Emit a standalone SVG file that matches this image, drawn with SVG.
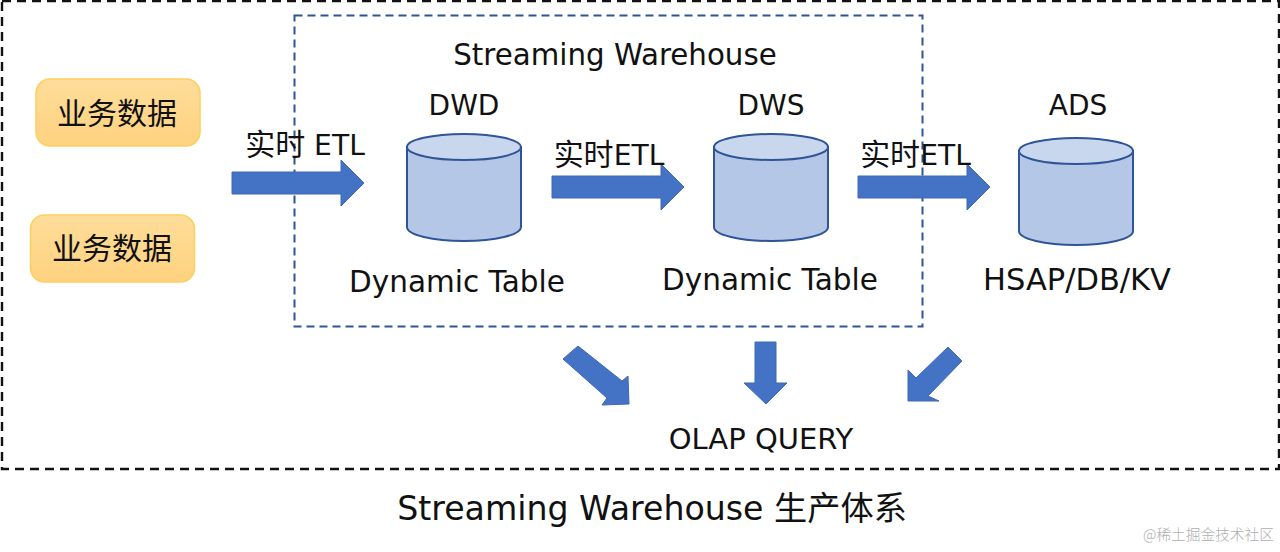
<svg xmlns="http://www.w3.org/2000/svg" width="1280" height="552" viewBox="0 0 1280 552">
<defs>
<linearGradient id="g" x1="0" y1="0" x2="0" y2="1"><stop offset="0" stop-color="#fedd9a"/><stop offset="1" stop-color="#fed27f"/></linearGradient>
<g id="cyl"><path class="cb" d="M0 14V94C0 102 26 108 57 108S114 102 114 94V14Z"/><ellipse class="ct" cx="57" cy="14" rx="57" ry="13"/></g>
</defs>
<style>
text{font-family:"DejaVu Sans","Noto Sans CJK SC",sans-serif;fill:#111;text-anchor:middle}
.t{font-size:29.500px}
.h{font-size:28px}
.e{font-size:28.200px}
.c{font-family:"Noto Sans CJK SC",sans-serif;font-size:30px}
.b{fill:url(#g);stroke:#fbd05e;stroke-width:1.500}
.a{fill:#4472c4;stroke:#3f69b4;stroke-width:1}
.cb{fill:#b4c7e7;stroke:#2f5597;stroke-width:2}
.ct{fill:#c9d7ee;stroke:#2f5597;stroke-width:2}
</style>
<rect width="1280" height="552" fill="#fff"/>
<g id="outer"><rect x="2" y="1" width="1277" height="468" fill="none" stroke="#111" stroke-width="2.400" stroke-dasharray="9 6"/></g>
<g id="warehouse"><rect x="294.500" y="15.500" width="628" height="311" fill="none" stroke="#2f5597" stroke-width="2" stroke-dasharray="8 5"/>
<text x="615" y="65" class="t" style="font-size:29.300px">Streaming Warehouse</text></g>
<g id="src1"><rect class="b" x="36" y="79" width="164" height="67" rx="14"/><text x="117" y="124" class="c">业务数据</text></g>
<g id="src2"><rect class="b" x="30.500" y="215" width="164" height="67" rx="14"/><text x="112" y="259" class="c">业务数据</text></g>
<g id="dwd"><text x="464" y="115" class="h">DWD</text><use href="#cyl" x="407" y="133"/><text x="457" y="292" class="t">Dynamic Table</text></g>
<g id="dws"><text x="771" y="115" class="h">DWS</text><use href="#cyl" x="714" y="133"/><text x="770" y="290" class="t">Dynamic Table</text></g>
<g id="ads"><text x="1078" y="115" class="h">ADS</text><use href="#cyl" x="1019" y="137"/><text x="1077" y="290" style="font-size:30.500px">HSAP/DB/KV</text></g>
<g id="connectors">
<polygon class="a" points="232,172 341,172 341,160 364,183 341,206 341,194 232,194"/>
<polygon class="a" points="552,176 661,176 661,164 684,187 661,210 661,198 552,198"/>
<polygon class="a" points="858,176 967,176 967,164 990,187 967,210 967,198 858,198"/>
<polygon class="a" points="578,346 622,381 628,376 629,404 602,405 607,398 563,359"/>
<polygon class="a" points="755,342 776,342 776,383 787,383 766,404 744,383 755,383"/>
<polygon class="a" points="948,347 962,361 928,396 939,401 908,401 908,370 916,378"/>
</g>
<g id="labels">
<text x="305" y="155" class="e"><tspan class="c">实时</tspan> ETL</text>
<text x="609" y="165" class="e"><tspan class="c">实时</tspan>ETL</text>
<text x="915.500" y="165" class="e"><tspan class="c">实时</tspan>ETL</text>
<text x="761" y="449" class="t" style="font-size:29px">OLAP QUERY</text>
<text x="652" y="520" style="font-size:33.200px">Streaming Warehouse <tspan style="font-family:'Noto Sans CJK SC',sans-serif">生产体系</tspan></text>
<text x="1208.500" y="540" style="font-size:14.700px;fill:#b0b0b0;font-family:'Noto Sans CJK SC',sans-serif;font-weight:300">@稀土掘金技术社区</text>
</g>
</svg>
